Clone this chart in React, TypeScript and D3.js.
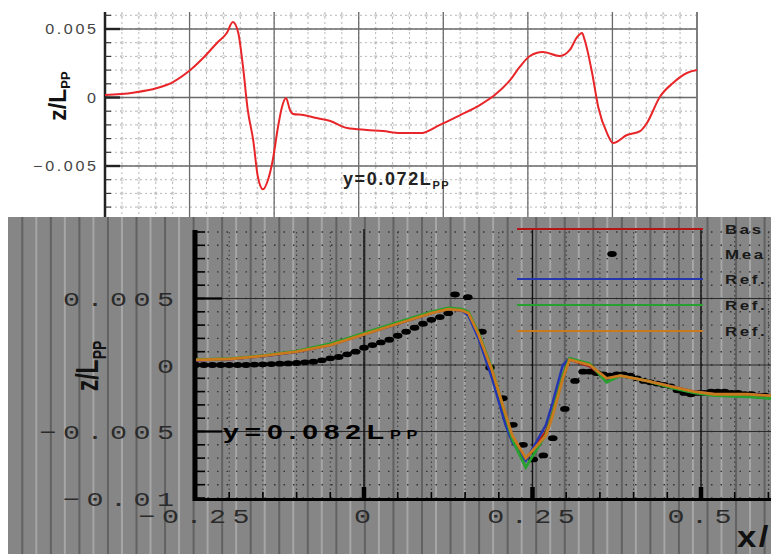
import React from 'react';
import * as d3 from 'd3';

const W = 771;
const H = 554;

// ---- top panel: y = 0.072 Lpp ----
const topX = [-0.25, -0.2086, -0.173, -0.1495, -0.124, -0.105, -0.0845, -0.07, -0.061, -0.053, -0.046, -0.039, -0.031, -0.024, -0.0165, -0.009, -0.002, 0.0057, 0.0116, 0.0175, 0.0234, 0.028, 0.043, 0.063, 0.083, 0.108, 0.137, 0.161, 0.186, 0.216, 0.245, 0.275, 0.304, 0.326, 0.349, 0.363, 0.378, 0.397, 0.4225, 0.437, 0.448, 0.455, 0.459, 0.47, 0.479, 0.492, 0.501, 0.5215, 0.541, 0.551, 0.57, 0.5895, 0.61, 0.625];
const topZ = [0.00018, 0.00035, 0.00069, 0.00113, 0.002, 0.00288, 0.00398, 0.00471, 0.00551, 0.00471, 0.00223, -0.00091, -0.0031, -0.0058, -0.0067, -0.006, -0.00456, -0.00215, -0.00069, -0.00004, -0.00091, -0.0012, -0.00128, -0.0015, -0.00172, -0.00223, -0.00237, -0.00245, -0.0026, -0.0026, -0.002, -0.00128, -0.00055, 0.00018, 0.00128, 0.00223, 0.00303, 0.00332, 0.00303, 0.00347, 0.00442, 0.00471, 0.0042, 0.00179, -0.00069, -0.0026, -0.00332, -0.00274, -0.00245, -0.00186, 0.00004, 0.00106, 0.00179, 0.002];
const topYTicks = [0.005, 0, -0.005];
const topYLabels = ['0.005', '0', '\u22120.005'];

// ---- bottom panel: y = 0.082 Lpp ----
const cfdX = [-0.25, -0.2, -0.15, -0.1, -0.05, 0, 0.05, 0.1, 0.125, 0.145, 0.155, 0.17, 0.19, 0.21, 0.22, 0.24, 0.27, 0.28, 0.295, 0.305, 0.335, 0.36, 0.38, 0.42, 0.455, 0.49, 0.52, 0.57, 0.6, 0.65];
const baseZ = [0.00036, 0.00044, 0.00066, 0.001, 0.0015, 0.0023, 0.0031, 0.0039, 0.0042, 0.0041, 0.0039, 0.0022, -0.0006, -0.004, -0.0055, -0.0071, -0.005, -0.0035, -0.0008, 0.0004, -0.0001, -0.0011, -0.0008, -0.0012, -0.0016, -0.002, -0.0022, -0.0022, -0.0023, -0.0024];
const ref1Z = [0.00036, 0.00044, 0.00066, 0.001, 0.0015, 0.0023, 0.0031, 0.0039, 0.0042, 0.0041, 0.0037, 0.002, -0.001, -0.0045, -0.0058, -0.0072, -0.0045, -0.0028, 0.0, 0.0005, 0.0, -0.0011, -0.0008, -0.0012, -0.0016, -0.002, -0.0022, -0.0022, -0.0023, -0.0024];
const ref2Z = [0.0004, 0.00048, 0.0007, 0.00105, 0.0016, 0.0024, 0.0032, 0.004, 0.0043, 0.0042, 0.004, 0.0024, -0.0003, -0.0038, -0.0056, -0.0077, -0.0052, -0.0036, -0.0008, 0.0005, 0.0001, -0.0013, -0.0008, -0.0012, -0.0017, -0.0021, -0.0023, -0.0024, -0.0025, -0.0025];
const ref3Z = [0.00038, 0.00045, 0.00068, 0.001, 0.0015, 0.0023, 0.0031, 0.0039, 0.0042, 0.0041, 0.0039, 0.0023, -0.0004, -0.0037, -0.0053, -0.007, -0.0053, -0.0038, -0.001, 0.0004, 0.0, -0.001, -0.0008, -0.0012, -0.0016, -0.002, -0.0022, -0.0022, -0.0023, -0.0024];
const measX = [-0.25, -0.2375, -0.225, -0.2125, -0.2, -0.1875, -0.175, -0.1625, -0.15, -0.1375, -0.125, -0.1125, -0.1, -0.0875, -0.075, -0.0625, -0.05, -0.0375, -0.025, -0.0125, 0, 0.0125, 0.025, 0.0375, 0.05, 0.0625, 0.075, 0.0875, 0.1, 0.1125, 0.125, 0.135, 0.154, 0.175, 0.187, 0.206, 0.221, 0.236, 0.251, 0.266, 0.28, 0.298, 0.313, 0.325, 0.335, 0.345, 0.355, 0.365, 0.375, 0.385, 0.395, 0.405, 0.415, 0.425, 0.435, 0.445, 0.455, 0.465, 0.475, 0.485, 0.495, 0.505, 0.515, 0.525, 0.535, 0.545, 0.555, 0.565, 0.575, 0.585, 0.595];
const measZ = [0, 0, 0, 0, 0, 0, 0, 0.00003, 0.00005, 0.00007, 0.0001, 0.00012, 0.00015, 0.0002, 0.00025, 0.00035, 0.0005, 0.0006, 0.0008, 0.001, 0.0013, 0.0015, 0.0017, 0.0019, 0.0022, 0.0025, 0.0028, 0.0031, 0.0034, 0.0036, 0.0039, 0.0053, 0.0051, 0.0025, -0.0002, -0.0025, -0.0045, -0.006, -0.0071, -0.0068, -0.0055, -0.0033, -0.0012, -0.0005, -0.0005, -0.0006, -0.0007, -0.0008, -0.0007, -0.0007, -0.0008, -0.001, -0.0012, -0.0013, -0.0014, -0.0015, -0.0016, -0.0019, -0.0021, -0.0022, -0.0021, -0.0021, -0.002, -0.002, -0.002, -0.0021, -0.0021, -0.0022, -0.0022, -0.0023, -0.0023];
const botYTicks = [0.005, 0, -0.005, -0.01];
const botYLabels = ['0.005', '0', '\u22120.005', '\u22120.01'];
const botXTicks = [-0.25, 0, 0.25, 0.5];
const botXLabels = ['\u22120.25', '0', '0.25', '0.5'];
// legend names as far as they are visible before the right edge
const legendLabels = ['Bas', 'Mea', 'Ref.', 'Ref.', 'Ref.'];
const legendColors = ['#b51515', '#000000', '#2336b0', '#26a02e', '#c97a1e'];

type STProps = {
  x: number; y: number; sx?: number; anchor?: 'start' | 'middle' | 'end'; ls?: number;
  size: number; family?: string; weight?: string | number; fill?: string; rotate?: boolean;
  children?: React.ReactNode;
};
function SText({ x, y, sx = 1, anchor = 'start', ls = 0, size, family = 'Liberation Sans', weight = 'normal', fill = '#000', rotate = false, children }: STProps) {
  const dx = anchor === 'middle' ? ls / 2 : anchor === 'end' ? ls : 0;
  return (
    <text
      transform={`translate(${x},${y}) scale(${sx},1)${rotate ? ' rotate(-90)' : ''}`}
      textAnchor={anchor}
      dx={dx}
      fontSize={size}
      fontFamily={family}
      fontWeight={weight}
      fill={fill}
      style={{ letterSpacing: `${ls}px` }}
    >
      {children}
    </text>
  );
}

export default function App() {
  const xT = d3.scaleLinear().domain([-0.25, 0.625]).range([105, 697]);
  const yT = d3.scaleLinear().domain([-0.005, 0.005]).range([166, 29]);
  const xB = d3.scaleLinear().domain([-0.25, 0.5]).range([195.5, 701]);
  const yB = d3.scaleLinear().domain([-0.01, 0.01]).range([498, 232]);

  const topLine = d3.line<number>().x((_, i) => xT(topX[i])).y((d) => yT(d)).curve(d3.curveMonotoneX);
  const botLine = (arr: number[]) => d3.line<number>().x((_, i) => xB(cfdX[i])).y((d) => yB(d))(arr) || '';

  const topMinorX = d3.range(0, 36).map((i) => -0.25 + i * 0.025);
  const topMajorX = d3.range(0, 8).map((i) => -0.25 + i * 0.125);
  const topMinorY = d3.range(-9, 7).map((i) => i * 0.001);

  const botMinorY = d3.range(-10, 11).map((i) => i * 0.001);
  const botMinorX = d3.range(0, 22).map((i) => -0.25 + i * 0.05);

  const darkStripes = d3.range(22.3, W, 28.55);
  const lightStripes = d3.range(36.3, W, 28.55);

  return (
    <svg width={W} height={H} style={{ position: 'absolute', left: 0, top: 0, background: '#fff' }}>
      <defs>
        <clipPath id="topclip"><rect x={105} y={10} width={593} height={215} /></clipPath>
        <clipPath id="botclip"><rect x={196} y={222} width={600} height={276} /></clipPath>
      </defs>
      {/* ===== top panel ===== */}
      <rect x={0} y={0} width={W} height={H} fill="#fff" />
      <g>
        {topMinorY.map((v, i) => (
          <line key={'tmy' + i} x1={105} x2={697} y1={yT(v)} y2={yT(v)} stroke="#b8b8b8" strokeWidth={1} strokeDasharray="2,3" />
        ))}
        {topMinorX.map((v, i) => (
          <line key={'tmx' + i} x1={xT(v)} x2={xT(v)} y1={12} y2={230} stroke="#b8b8b8" strokeWidth={1} strokeDasharray="2,3" />
        ))}
        {topMinorY.map((v, i) =>
          topMinorX.filter((_, j) => j % 5 !== 0).map((u, j) => (
            <circle key={'tc' + i + '_' + j} cx={xT(u)} cy={yT(v)} r={1.4} fill="none" stroke="#c4c4c4" strokeWidth={0.8} />
          ))
        )}
        {topYTicks.map((v, i) => (
          <line key={'tmjy' + i} x1={105} x2={697} y1={yT(v)} y2={yT(v)} stroke="#6a6a6a" strokeWidth={1.3} />
        ))}
        {topMajorX.map((v, i) => (
          <line key={'tmjx' + i} x1={xT(v)} x2={xT(v)} y1={12} y2={230} stroke="#6a6a6a" strokeWidth={1.3} />
        ))}
        <line x1={697} x2={697} y1={12} y2={230} stroke="#777" strokeWidth={1.6} />
        <line x1={105} x2={105} y1={12} y2={230} stroke="#222" strokeWidth={2.5} />
        {topMinorY.map((v, i) => (
          <line key={'tty' + i} x1={105} x2={111} y1={yT(v)} y2={yT(v)} stroke="#333" strokeWidth={1.2} />
        ))}
        {topYTicks.map((v, i) => (
          <line key={'ttjy' + i} x1={105} x2={120} y1={yT(v)} y2={yT(v)} stroke="#222" strokeWidth={2.4} />
        ))}
        {topYTicks.map((v, i) => (
          <SText key={'tyl' + i} x={96} y={yT(v) + 5} anchor="end" sx={1.15} ls={2.3} size={14} family="Liberation Sans" fill="#444">
            {topYLabels[i]}
          </SText>
        ))}
        <path d={topLine(topZ) || ''} fill="none" stroke="#e8262a" strokeWidth={2} clipPath="url(#topclip)" />
        <SText x={66} y={96} anchor="middle" size={23} weight="bold" rotate fill="#111">
          z/L<tspan fontSize={13} dy={4}>PP</tspan>
        </SText>
        <SText x={343} y={185} size={18} weight="bold" ls={1.6} fill="#222">
          y=0.072L<tspan fontSize={11} dy={4}>PP</tspan>
        </SText>
      </g>

      {/* ===== bottom panel ===== */}
      <rect x={8} y={217} width={W - 8} height={H - 217} fill="#868686" />
      {darkStripes.map((x, i) => (
        <line key={'ds' + i} x1={x} x2={x} y1={217} y2={H} stroke="#626262" strokeWidth={2} />
      ))}
      {lightStripes.map((x, i) => (
        <line key={'ls' + i} x1={x} x2={x} y1={217} y2={H} stroke="#a6a6a6" strokeWidth={2} />
      ))}
      {botMinorY.map((v, i) => (
        <line key={'bmy' + i} x1={198} x2={W} y1={yB(v)} y2={yB(v)} stroke="#333" strokeWidth={1.4} strokeDasharray="1.5,8" />
      ))}
      {botMinorX.map((v, i) => (
        <line key={'bmx' + i} x1={xB(v)} x2={xB(v)} y1={232} y2={498} stroke="#3a3a3a" strokeWidth={1} strokeDasharray="1.5,3" />
      ))}
      {botYTicks.slice(0, 3).map((v, i) => (
        <line key={'bjy' + i} x1={195} x2={W} y1={yB(v)} y2={yB(v)} stroke="#2a2a2a" strokeWidth={1.1} />
      ))}
      {botXTicks.slice(1).map((v, i) => (
        <line key={'bjx' + i} x1={xB(v)} x2={xB(v)} y1={229} y2={498} stroke="#111" strokeWidth={1.4} />
      ))}
      <line x1={195} x2={195} y1={230} y2={501} stroke="#000" strokeWidth={5} />
      <line x1={193} x2={W} y1={499.5} y2={499.5} stroke="#000" strokeWidth={3} />
      {botMinorY.map((v, i) => (
        <line key={'bty' + i} x1={195} x2={205} y1={yB(v)} y2={yB(v)} stroke="#000" strokeWidth={1.6} />
      ))}
      {botYTicks.slice(0, 3).map((v, i) => (
        <line key={'btjy' + i} x1={195} x2={222} y1={yB(v)} y2={yB(v)} stroke="#000" strokeWidth={2.2} />
      ))}
      {botMinorX.map((v, i) => (
        <line key={'btx' + i} x1={xB(v)} x2={xB(v)} y1={492} y2={499} stroke="#000" strokeWidth={1.6} />
      ))}
      {botXTicks.slice(1).map((v, i) => (
        <line key={'btjx' + i} x1={xB(v)} x2={xB(v)} y1={487} y2={499} stroke="#000" strokeWidth={4.5} />
      ))}
      {botYTicks.map((v, i) => (
        <SText key={'byl' + i} x={174} y={yB(v) + 7.5} anchor="end" sx={1.35} ls={4.8} size={21} family="Liberation Mono" fill="#2b2b2b">
          {botYLabels[i]}
        </SText>
      ))}
      {botXTicks.map((v, i) => (
        <SText key={'bxl' + i} x={xB(v) - 1.5} y={523} anchor="middle" sx={1.35} ls={4.8} size={21} family="Liberation Mono" fill="#2b2b2b">
          {botXLabels[i]}
        </SText>
      ))}
      <SText x={98} y={366} anchor="middle" sx={1.35} size={23} weight="bold" rotate fill="#111">
        z/L<tspan fontSize={14} dy={6}>PP</tspan>
      </SText>
      <SText x={737} y={547} sx={1.2} size={29} weight="bold" ls={2} fill="#111">
        x/
      </SText>
      <SText x={223} y={439} sx={1.35} size={21} weight="bold" ls={4.3} fill="#000">
        y=0.082L<tspan fontSize={12} dy={0}>PP</tspan>
      </SText>
      <g clipPath="url(#botclip)">
        {measX.map((x, i) => (
          <ellipse key={'m' + i} cx={xB(x)} cy={yB(measZ[i])} rx={4.8} ry={2.9} fill="#000" />
        ))}
        <path d={botLine(baseZ)} fill="none" stroke={legendColors[0]} strokeWidth={2.5} />
        <path d={botLine(ref1Z)} fill="none" stroke={legendColors[2]} strokeWidth={2.5} />
        <path d={botLine(ref2Z)} fill="none" stroke={legendColors[3]} strokeWidth={2.8} />
        <path d={botLine(ref3Z)} fill="none" stroke={legendColors[4]} strokeWidth={2.8} />
      </g>
      {legendLabels.map((lab, i) => {
        const ly = [229, 254, 279, 305, 331][i];
        return (
          <g key={'lg' + i}>
            {i === 1 ? (
              <ellipse cx={612} cy={ly} rx={4.8} ry={2.9} fill="#000" />
            ) : (
              <line x1={517} x2={703} y1={ly} y2={ly} stroke={legendColors[i]} strokeWidth={2.2} />
            )}
            <SText x={725} y={ly + 5} sx={1.3} size={13} weight="bold" ls={2} fill="#1a1a1a">
              {lab}
            </SText>
          </g>
        );
      })}
    </svg>
  );
}
